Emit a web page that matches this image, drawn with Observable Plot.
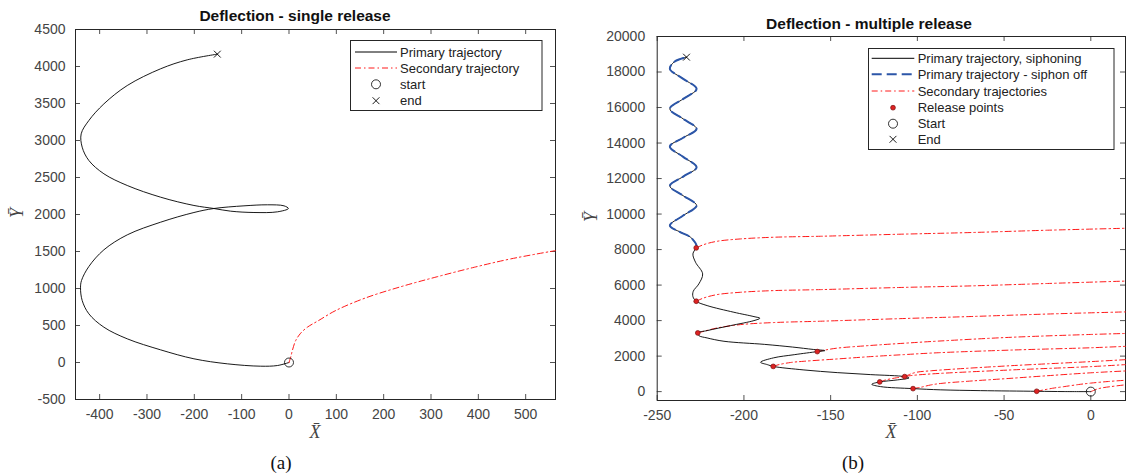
<!DOCTYPE html>
<html>
<head>
<meta charset="utf-8">
<script src="https://cdn.jsdelivr.net/npm/d3@7"></script>
<script src="https://cdn.jsdelivr.net/npm/@observablehq/plot@0.6"></script>
<style>
  body { margin: 0; background: #fff; }
  #fig { position: relative; width: 1127px; height: 476px; overflow: hidden; background: #fff;
         font-family: "Liberation Sans", Arial, Helvetica, sans-serif; }
  #fig > svg, #fig > div { position: absolute; }
  .t { position: absolute; white-space: nowrap; transform: translate(-50%, -50%); line-height: 1; }
  .title { font-weight: bold; font-size: 15.5px; color: #111; }
  .axlab { font-family: "Liberation Serif", "DejaVu Serif", serif; font-style: italic; font-size: 18px; color: #444; }
  .cap { font-family: "Liberation Serif", "DejaVu Serif", serif; font-size: 19px; color: #111; }
</style>
</head>
<body>
<div id="fig"></div>
<script>
// ---------- (a) single release ----------
const xTicksA = [-400, -300, -200, -100, 0, 100, 200, 300, 400, 500];
const yTicksA = [-500, 0, 500, 1000, 1500, 2000, 2500, 3000, 3500, 4000, 4500];

// primary trajectory, from start (0,0) to end
const primaryA = [
  [0, 0], [-24.5, -41], [-59.8, -50], [-130.2, -18], [-200.8, 50], [-271.2, 171],
  [-341.7, 320], [-391, 477], [-422.8, 658], [-436.9, 838], [-440.4, 1009], [-438.3, 1108],
  [-422.8, 1297], [-391, 1523], [-341.7, 1725], [-271.2, 1896], [-200.8, 2027], [-158.6, 2081],
  [-95.1, 2117], [-45.7, 2131], [-10.5, 2117], [-1.3, 2081], [-24.5, 2036], [-74, 2027],
  [-123.3, 2045], [-158.6, 2081], [-200.8, 2122], [-271.2, 2234], [-341.7, 2392], [-391, 2550],
  [-422.8, 2730], [-436.9, 2910], [-439, 3090], [-422.8, 3270], [-391, 3495], [-341.7, 3743],
  [-271.2, 3969], [-214.9, 4090], [-151.4, 4167]
];
// secondary trajectory after the release at the start point
const secondaryA = [
  [0, 0], [3.6, 72], [7.1, 162], [14.2, 297], [24.7, 396], [38.8, 477], [62, 565],
  [98.6, 702], [160.2, 869], [237.3, 1026], [314.3, 1161], [391.4, 1287], [468.4, 1400], [563, 1512]
];
const startA = [[0, 0]];
const endA = [[-151.4, 4167]];

// ---------- (b) multiple release ----------
const xTicksB = [-250, -200, -150, -100, -50, 0];
const yTicksB = [0, 2000, 4000, 6000, 8000, 10000, 12000, 14000, 16000, 18000, 20000];

// primary trajectory while siphoning (start to last release)
const primaryB_siphoning = [
  [0, 0], [-15.4, 3], [-31.2, 19], [-63.5, 56], [-86.5, 100], [-102.5, 169], [-121.2, 282],
  [-126.3, 413], [-121.7, 545], [-111.5, 660], [-104.8, 770], [-107.3, 845], [-126.9, 958],
  [-146.2, 1070], [-165.4, 1221], [-183.1, 1420], [-186.5, 1521], [-190.4, 1653], [-183, 1900],
  [-171, 2080], [-157.7, 2254], [-153.3, 2310], [-160, 2375], [-172, 2510], [-188, 2660],
  [-211.5, 2836], [-221.2, 3023], [-226, 3155], [-226.6, 3305], [-221.2, 3437], [-207.7, 3718],
  [-194.2, 4000], [-190.8, 4131], [-194.2, 4225], [-205.8, 4470], [-221.2, 4845], [-227.5, 5090],
  [-229.4, 5352], [-229.2, 5652], [-226, 6066], [-223.8, 6630], [-227.9, 7286], [-229.4, 7755],
  [-227.5, 8094]
];
// primary trajectory with the siphon off (last release to end)
const primaryB_siphonOff = [
  [-227.5, 8094], [-227.4, 8260], [-230.8, 8695], [-236.5, 8975], [-242.7, 9352], [-235, 9915],
  [-227.3, 10479], [-235, 11033], [-242.7, 11587], [-235, 12112], [-227.3, 12638], [-235, 13220],
  [-242.7, 13803], [-235, 14300], [-227.3, 14798], [-235, 15360], [-242.7, 15925], [-235, 16488],
  [-227.3, 17051], [-235, 17614], [-242.7, 18178], [-240.4, 18553], [-236.5, 18741], [-233.1, 18836]
];
// secondary trajectories, one per release
const secondaryB = [
  [[-227.5, 8094], [-223.1, 8282], [-215.4, 8468], [-201.9, 8600], [-182.7, 8695], [-155.8, 8750], [-110, 8865], [-69, 8960], [-25, 9090], [20, 9200]],
  [[-227.5, 5090], [-223.1, 5277], [-215.4, 5465], [-201.9, 5596], [-182.7, 5690], [-155.8, 5745], [-110, 5865], [-69, 5955], [-25, 6090], [20, 6225]],
  [[-226.6, 3305], [-223.1, 3397], [-215.4, 3586], [-201.9, 3775], [-182.7, 3890], [-155.8, 3965], [-110, 4110], [-69, 4230], [-25, 4370], [20, 4490]],
  [[-157.7, 2254], [-152.9, 2347], [-146.2, 2450], [-126.9, 2600], [-107.7, 2725], [-88, 2845], [-46, 3060], [0, 3220], [20, 3275]],
  [[-183.1, 1420], [-179.8, 1521], [-173.1, 1640], [-165.4, 1709], [-146.2, 1840], [-126.9, 1972], [-107.7, 2084], [-88, 2190], [-46, 2340], [0, 2470], [20, 2550]],
  [[-107.3, 845], [-103.8, 995], [-100, 1100], [-92, 1175], [-80, 1260], [-46, 1460], [0, 1690], [20, 1800]],
  [[-121.7, 545], [-118.3, 657], [-112, 780], [-104, 900], [-92.3, 995], [-46, 1221], [0, 1408], [20, 1521]],
  [[-102.5, 169], [-98.1, 244], [-92.3, 376], [-86.5, 460], [-70, 590], [-46, 750], [-20, 930], [0, 1060], [20, 1164]],
  [[-31.2, 19], [-28, 80], [-22, 190], [-15.4, 282], [-7, 400], [0, 480], [10, 570], [20, 640]],
  [[0, 0], [1.5, 60], [3.8, 150], [7, 220], [11.5, 282], [20, 385]]
];
const releaseB = [
  [-31.2, 19], [-102.5, 169], [-121.7, 545], [-107.3, 845], [-183.1, 1420],
  [-157.7, 2254], [-226.6, 3305], [-227.5, 5090], [-227.5, 8094]
];
const startB = [[0, 0]];
const endB = [[-233.1, 18836]];

// ---------- styling ----------
const INK = "#262626";
const RED = "#ff1a1a";
const BLUE = "#2c56a8";
const DASHDOT = "6,3,1.5,3";
const fx = d => d[0], fy = d => d[1];

function frameAxes(xt, yt, fw, fh, padX, padY) {
  const tk = {stroke: INK, strokeWidth: 0.8};
  return [
    Plot.tickX(xt, {x: d => d, insetTop: fh - 5, ...tk}),
    Plot.tickX(xt, {x: d => d, insetBottom: fh - 5, ...tk}),
    Plot.tickY(yt, {y: d => d, insetRight: fw - 5, ...tk}),
    Plot.tickY(yt, {y: d => d, insetLeft: fw - 5, ...tk}),
    Plot.axisX({ticks: xt, tickSize: 0, tickPadding: padX, tickFormat: d => String(d), fontSize: 14, fill: "#444", label: null}),
    Plot.axisY({ticks: yt, tickSize: 0, tickPadding: padY, tickFormat: d => String(d), fontSize: 14, fill: "#444", label: null}),
    Plot.frame({stroke: INK, strokeWidth: 1})
  ];
}

const plotStyle = {fontFamily: '"Liberation Sans", Arial, Helvetica, sans-serif', background: "transparent", overflow: "visible"};

// panel (a)
const aM = {l: 75, r: 8, t: 29, b: 77}, aW = 563, H = 476;
const plotA = Plot.plot({
  width: aW, height: H,
  marginLeft: aM.l, marginRight: aM.r, marginTop: aM.t, marginBottom: aM.b,
  x: {domain: [-451, 563]},
  y: {domain: [-500, 4500]},
  style: plotStyle,
  marks: [
    ...frameAxes(xTicksA, yTicksA, aW - aM.l - aM.r, H - aM.t - aM.b, 10, 10),
    Plot.line(primaryA, {x: fx, y: fy, stroke: "#000", strokeWidth: 0.9, curve: "catmull-rom"}),
    Plot.line(secondaryA, {x: fx, y: fy, stroke: RED, strokeWidth: 1, strokeDasharray: DASHDOT, curve: "catmull-rom"}),
    Plot.dot(startA, {x: fx, y: fy, r: 4.5, stroke: "#000", fill: "none", strokeWidth: 0.8}),
    Plot.dot(endA, {x: fx, y: fy, r: 3.2, symbol: "times", stroke: "#000", strokeWidth: 0.9})
  ]
});

// panel (b)
const bM = {l: 93.7, r: 2, t: 36, b: 76}, bW = 564;
const secRows = secondaryB.flatMap((t, i) => t.map(([x, y]) => ({x, y, id: i})));
const plotB = Plot.plot({
  width: bW, height: H,
  marginLeft: bM.l, marginRight: bM.r, marginTop: bM.t, marginBottom: bM.b,
  x: {domain: [-250, 20]},
  y: {domain: [-500, 20000]},
  style: plotStyle,
  marks: [
    ...frameAxes(xTicksB, yTicksB, bW - bM.l - bM.r, H - bM.t - bM.b, 10, 12),
    Plot.line(secRows, {x: "x", y: "y", z: "id", stroke: RED, strokeWidth: 1, strokeDasharray: DASHDOT, curve: "catmull-rom"}),
    Plot.line(primaryB_siphoning, {x: fx, y: fy, stroke: "#000", strokeWidth: 0.9, curve: "catmull-rom"}),
    Plot.line(primaryB_siphonOff, {x: fx, y: fy, stroke: "#000", strokeWidth: 0.9, curve: "catmull-rom"}),
    Plot.line(primaryB_siphonOff, {x: fx, y: fy, stroke: BLUE, strokeWidth: 2, strokeDasharray: "10,5", curve: "catmull-rom"}),
    Plot.dot(releaseB, {x: fx, y: fy, r: 2.4, fill: "#dd2222", stroke: "#7a1010", strokeWidth: 0.7}),
    Plot.dot(startB, {x: fx, y: fy, r: 4.5, stroke: "#000", fill: "none", strokeWidth: 0.8}),
    Plot.dot(endB, {x: fx, y: fy, r: 3.2, symbol: "times", stroke: "#000", strokeWidth: 0.9})
  ]
});

const fig = document.getElementById("fig");
plotA.style.left = "0px"; plotA.style.top = "0px";
plotB.style.left = aW + "px"; plotB.style.top = "0px";
fig.appendChild(plotA);
fig.appendChild(plotB);

// titles, axis labels and captions
function label(cls, text, x, y, rot) {
  const el = document.createElement("div");
  el.className = "t " + cls;
  el.textContent = text;
  el.style.left = x + "px";
  el.style.top = y + "px";
  if (rot) el.style.transform = "translate(-50%, -50%) rotate(-90deg)";
  fig.appendChild(el);
}
label("title", "Deflection - single release", 295, 16);
label("title", "Deflection - multiple release", 869, 24);
label("axlab", "X\u0304", 315, 432);
label("axlab", "X\u0304", 891, 432);
label("axlab", "Y\u0304", 16.5, 213, true);
label("axlab", "Y\u0304", 591, 217, true);
label("cap", "(a)", 281, 462);
label("cap", "(b)", 853, 462);

// legends
const ov = d3.select(fig).append("svg")
  .attr("width", 1127).attr("height", H)
  .style("left", "0px").style("top", "0px")
  .style("pointer-events", "none");

function legend(box, rows, lineX0, lineX1, textX) {
  const g = ov.append("g").attr("font-family", '"Liberation Sans", Arial, sans-serif').attr("font-size", 13);
  g.append("rect").attr("x", box[0]).attr("y", box[1]).attr("width", box[2]).attr("height", box[3])
    .attr("fill", "#fff").attr("stroke", INK).attr("stroke-width", 1);
  const mx = (lineX0 + lineX1) / 2;
  for (const r of rows) {
    if (r.kind === "line") {
      g.append("line").attr("x1", lineX0).attr("x2", lineX1).attr("y1", r.y).attr("y2", r.y)
        .attr("stroke", r.stroke).attr("stroke-width", r.width || 1).attr("stroke-dasharray", r.dash || null);
    } else if (r.kind === "circle") {
      g.append("circle").attr("cx", mx).attr("cy", r.y).attr("r", 4.5).attr("fill", "none").attr("stroke", "#000").attr("stroke-width", 0.8);
    } else if (r.kind === "dot") {
      g.append("circle").attr("cx", mx).attr("cy", r.y).attr("r", 2.4).attr("fill", "#dd2222").attr("stroke", "#7a1010").attr("stroke-width", 0.7);
    } else if (r.kind === "times") {
      g.append("path").attr("d", d3.symbol(d3.symbolTimes, Math.PI * 3.2 * 3.2)()).attr("transform", `translate(${mx},${r.y})`)
        .attr("fill", "none").attr("stroke", "#000").attr("stroke-width", 0.9);
    }
    g.append("text").attr("x", textX).attr("y", r.y).attr("dy", "0.35em").attr("fill", "#222").text(r.text);
  }
}

legend([350.5, 40.5, 191.5, 70], [
  {kind: "line", y: 52, stroke: "#000", text: "Primary trajectory"},
  {kind: "line", y: 68, stroke: RED, dash: DASHDOT, text: "Secondary trajectory"},
  {kind: "circle", y: 84.3, text: "start"},
  {kind: "times", y: 100.7, text: "end"}
], 355, 397, 400);

legend([868.5, 48.5, 245.5, 101], [
  {kind: "line", y: 58.3, stroke: "#000", text: "Primary trajectory, siphoning"},
  {kind: "line", y: 74.3, stroke: BLUE, width: 2, dash: "10,5", text: "Primary trajectory - siphon off"},
  {kind: "line", y: 91, stroke: RED, dash: DASHDOT, text: "Secondary trajectories"},
  {kind: "dot", y: 107.7, text: "Release points"},
  {kind: "circle", y: 123.7, text: "Start"},
  {kind: "times", y: 139.3, text: "End"}
], 871.7, 914.3, 917.7);
</script>
</body>
</html>
